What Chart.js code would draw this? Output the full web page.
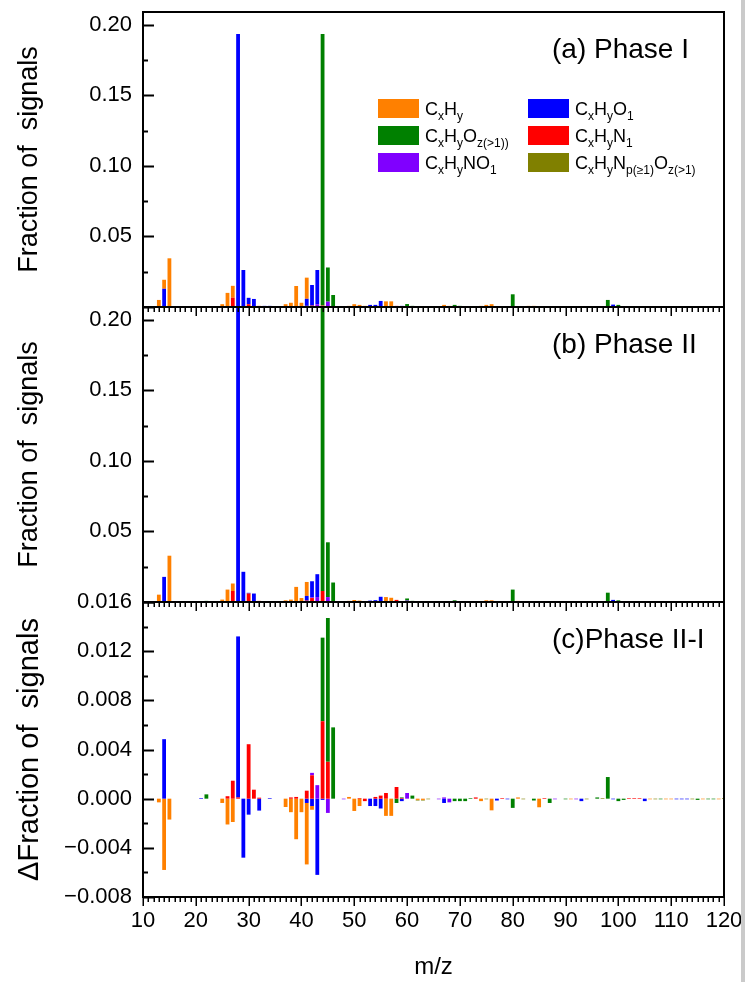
<!DOCTYPE html>
<html>
<head>
<meta charset="utf-8">
<script src="https://cdn.jsdelivr.net/npm/chart.js@4.4.1/dist/chart.umd.min.js"></script>
<style>
  html, body { margin: 0; padding: 0; background: #fff; }
  #wrap { position: relative; width: 745px; height: 982px; }
  #edge { position: absolute; left: 741px; top: 0; width: 4px; height: 982px; background: #cacaca; }
</style>
</head>
<body>
<div id="wrap">
  <canvas id="ms" width="745" height="982"></canvas>
  <div id="edge"></div>
</div>
<script>
// axis ticks
var xTicks = [10, 20, 30, 40, 50, 60, 70, 80, 90, 100, 110, 120]
var yTicksPhase = [0.05, 0.10, 0.15, 0.20]
var yTicksDiff = [-0.008, -0.004, 0, 0.004, 0.008, 0.012, 0.016]

var panelNames = ["(a) Phase I", "(b) Phase II", "(c)Phase II-I"]
var yTitles = ["Fraction of  signals", "Fraction of  signals", "\u0394Fraction of  signals"]

// families in stacking order (bottom first) ; label parts = [text, subscript?]
var familyLabels = [
	[["C", 0], ["x", 1], ["H", 0], ["y", 1], ["N", 0], ["1", 1]],
	[["C", 0], ["x", 1], ["H", 0], ["y", 1], ["NO", 0], ["1", 1]],
	[["C", 0], ["x", 1], ["H", 0], ["y", 1], ["O", 0], ["1", 1]],
	[["C", 0], ["x", 1], ["H", 0], ["y", 1]],
	[["C", 0], ["x", 1], ["H", 0], ["y", 1], ["O", 0], ["z(>1))", 1]],
	[["C", 0], ["x", 1], ["H", 0], ["y", 1], ["N", 0], ["p(\u22651)", 1], ["O", 0], ["z(>1)", 1]]
]
var familyColors = ["#ff0000", "#8000ff", "#0000ff", "#ff8000", "#008000", "#808000"]
// legend reading order, row by row (2 columns)
var legendOrder = [3, 2, 4, 0, 1, 5]

// (a) Phase I : [m/z, fraction]
var phaseI_N1 = [[27, 0.0066], [30, 0.002], [32, 0.0008], [41, 0.0008], [42, 0.001], [44, 0.001], [47, 0.0005], [58, 0.0008], [65, 0.0005], [78, 0.0006], [85, 0.0005], [92, 0.0006], [96, 0.0005], [108, 0.0006], [113, 0.0005]]
var phaseI_NO1 = [[43, 0.002], [45, 0.0038], [48, 0.0006], [60, 0.0006], [64, 0.0006], [66, 0.0005], [89, 0.0005], [102, 0.0005], [107, 0.0005]]
var phaseI_O1 = [[14, 0.0129], [28, 0.1934], [29, 0.0262], [30, 0.0045], [31, 0.0057], [33, 0.0008], [34, 0.0008], [41, 0.005], [42, 0.0146], [43, 0.0242], [53, 0.0015], [54, 0.0015], [55, 0.0043], [59, 0.0008], [71, 0.0006], [72, 0.0005], [82, 0.0006], [86, 0.0006], [99, 0.0017], [106, 0.0006], [117, 0.0006], [118, 0.0006]]
var phaseI_CxHy = [[13, 0.005], [14, 0.0064], [15, 0.0345], [25, 0.002], [26, 0.010], [27, 0.0084], [37, 0.002], [38, 0.003], [39, 0.0149], [40, 0.003], [41, 0.015], [49, 0.0008], [50, 0.002], [51, 0.0015], [52, 0.0008], [56, 0.004], [57, 0.004], [62, 0.0006], [63, 0.0006], [67, 0.0015], [68, 0.0008], [74, 0.0008], [75, 0.0015], [76, 0.002], [81, 0.0006], [83, 0.0008], [84, 0.0008], [91, 0.0006], [105, 0.0005], [110, 0.0005], [111, 0.0005], [119, 0.0005]]
var phaseI_Oz = [[22, 0.0006], [44, 0.1924], [45, 0.0242], [46, 0.0085], [60, 0.0015], [61, 0.0008], [69, 0.0015], [70, 0.0008], [73, 0.0006], [80, 0.009], [88, 0.0006], [98, 0.005], [100, 0.0015], [101, 0.0006], [104, 0.0005], [114, 0.0006], [115, 0.0006]]
var phaseI_NpOz = [[77, 0.0005], [87, 0.0005], [93, 0.0005], [94, 0.0005], [103, 0.0005], [109, 0.0005], [112, 0.0005], [116, 0.0005], [120, 0.0005]]

// (b) Phase II
var phaseII_N1 = [[27, 0.0078], [30, 0.006], [32, 0.0008], [41, 0.001], [42, 0.0028], [44, 0.0078], [45, 0.0005], [52, 0.0005], [54, 0.0005], [55, 0.0005], [56, 0.0005], [58, 0.0015], [65, 0.0005], [73, 0.0005], [78, 0.0006], [92, 0.0006], [96, 0.0005], [108, 0.0006], [113, 0.0005]]
var phaseII_NO1 = [[42, 0.0005], [43, 0.0035], [45, 0.003], [48, 0.0005], [60, 0.001], [64, 0.0005], [68, 0.0005], [89, 0.0005], [102, 0.0005], [107, 0.0005]]
var phaseII_O1 = [[14, 0.0178], [28, 0.225], [29, 0.0214], [30, 0.0005], [31, 0.006], [34, 0.0006], [41, 0.0033], [42, 0.0114], [43, 0.0162], [53, 0.001], [54, 0.0008], [55, 0.0032], [59, 0.0006], [67, 0.0005], [72, 0.0005], [82, 0.0005], [99, 0.0015], [106, 0.0005], [117, 0.0005]]
var phaseII_CxHy = [[13, 0.0052], [15, 0.0328], [16, 0.0005], [25, 0.0017], [26, 0.0088], [27, 0.0053], [37, 0.0012], [38, 0.0017], [39, 0.0107], [40, 0.0028], [41, 0.0099], [49, 0.0008], [50, 0.0014], [51, 0.001], [56, 0.003], [57, 0.003], [62, 0.0006], [63, 0.0005], [75, 0.0012], [76, 0.0012], [81, 0.0008], [83, 0.0006], [85, 0.0006], [91, 0.0005], [110, 0.0005], [119, 0.0005]]
var phaseII_Oz = [[22, 0.0008], [44, 0.22], [45, 0.0388], [46, 0.0138], [60, 0.0015], [61, 0.0008], [69, 0.0012], [70, 0.0006], [80, 0.0088], [88, 0.0006], [98, 0.0066], [100, 0.0012], [114, 0.0006], [115, 0.0006]]
var phaseII_NpOz = [[77, 0.0005], [87, 0.0005], [93, 0.0005], [94, 0.0005], [103, 0.0005], [109, 0.0005], [112, 0.0005], [116, 0.0005], [120, 0.0005]]

// (c) Phase II-I
var diff_N1 = [[26, 0.0002], [27, 0.00146], [28, 0.0001], [30, 0.00443], [31, 0.00073], [32, 0.00008], [38, 0.0001], [39, 0.00014], [41, 0.00065], [42, 0.0019], [44, 0.0063], [45, 0.003], [51, 0.00005], [52, -0.0002], [54, 0.00014], [55, 0.00025], [56, 0.00046], [58, 0.00095], [59, 0.00005], [73, 0.0001], [78, 0.00005], [86, 0.00005], [102, 0.00005], [103, 0.00005], [104, 0.00005]]
var diff_NO1 = [[42, 0.0002], [43, 0.0011], [45, -0.00116], [48, -0.00005], [60, 0.00046], [66, -0.00005], [67, 0.0001], [68, -0.0003], [88, -0.00005], [92, -0.00005]]
var diff_O1 = [[14, 0.00484], [21, 0.00005], [28, 0.0131], [29, -0.0048], [30, -0.0013], [32, -0.00097], [34, 0.00005], [41, -0.00035], [42, -0.0006], [43, -0.0062], [44, -0.0001], [53, -0.0006], [54, -0.0006], [55, -0.0008], [59, -0.0002], [67, -0.00035], [77, -0.00015], [79, -0.00005], [93, -0.0002], [99, -0.00005], [105, -0.0002], [111, -0.00005], [112, -0.00005], [113, -0.00005]]
var diff_CxHy = [[13, -0.0003], [14, -0.0058], [15, -0.0017], [25, -0.00035], [26, -0.0021], [27, -0.0019], [37, -0.00068], [38, -0.0011], [39, -0.0033], [40, -0.0011], [41, -0.005], [42, -0.0003], [49, 0.00014], [50, -0.001], [51, -0.0006], [56, -0.0014], [57, -0.0014], [62, -0.0001], [63, -0.0001], [74, -0.0002], [76, -0.00095], [81, 0.0001], [85, -0.0007], [91, -0.00005], [106, -0.00005], [109, -0.00005], [110, -0.00005], [116, -0.00005], [119, -0.00005]]
var diff_Oz = [[22, 0.00035], [44, 0.0068], [45, 0.0117], [46, 0.0058], [58, -0.00035], [59, 0.00005], [61, 0.00025], [69, -0.0002], [70, -0.0002], [71, -0.0002], [72, 0.00005], [80, -0.00075], [84, -0.00015], [87, -0.00035], [90, -0.00005], [96, 0.0001], [98, 0.00176], [100, -0.0002], [101, -0.0001], [108, -0.00005], [115, -0.0001], [117, -0.00005], [118, -0.00005]]
var diff_NpOz = [[62, -0.00005], [63, -0.00005], [64, -0.00005], [75, -0.00005], [82, -0.00005], [94, -0.00005], [97, 0.00005], [107, -0.00005], [114, -0.00005], [120, 0.00005]]

var panels = [
	[phaseI_N1, phaseI_NO1, phaseI_O1, phaseI_CxHy, phaseI_Oz, phaseI_NpOz],
	[phaseII_N1, phaseII_NO1, phaseII_O1, phaseII_CxHy, phaseII_Oz, phaseII_NpOz],
	[diff_N1, diff_NO1, diff_O1, diff_CxHy, diff_Oz, diff_NpOz]
]
var axisIds = ["ya", "yb", "yc"]

var FONT = '"Liberation Sans", Arial, sans-serif'
Chart.defaults.font.family = FONT
Chart.defaults.color = "#000"

var datasets = []
panels.forEach(function (series, p) {
	series.forEach(function (pairs, f) {
		datasets.push({
			data: pairs.map(function (d) { return { x: d[0], y: d[1] } }),
			yAxisID: axisIds[p],
			xAxisID: "x",
			backgroundColor: familyColors[f],
			borderWidth: 0,
			barPercentage: 0.72,
			categoryPercentage: 1
		})
	})
})

function fmt(v, digits) {
	return v.toFixed(digits).replace("-", "\u2212")
}

function yScale(p, min, max, ticks, digits) {
	return {
		type: "linear",
		position: "left",
		stack: "panels",
		stackWeight: 1,
		weight: 3 - p,   // first stacked box goes to the bottom
		stacked: true,
		min: min,
		max: max,
		grid: { display: false, drawTicks: false },
		border: { display: false },
		afterBuildTicks: function (s) { s.ticks = ticks.map(function (v) { return { value: v } }) },
		afterFit: function (s) { s.width = 143; s.paddingTop = 0; s.paddingBottom = 0 },
		ticks: {
			font: { size: 22 },
			padding: 11,
			autoSkip: false,
			callback: function (v) { return fmt(v, digits) }
		},
		title: { display: true, text: yTitles[p], font: { size: p < 2 ? 27 : 29 }, padding: { top: 13, bottom: 0 } }
	}
}

// subscripted text for the legend
function drawRich(ctx, parts, x, y) {
	parts.forEach(function (pt) {
		ctx.font = (pt[1] ? "12px " : "18px ") + FONT
		ctx.fillText(pt[0], x, pt[1] ? y + 5 : y)
		x += ctx.measureText(pt[0]).width
	})
}

var decor = {
	id: "decor",
	afterDatasetsDraw: function (chart) {
		var ctx = chart.ctx
		var xs = chart.scales.x
		ctx.save()
		ctx.strokeStyle = "#000"
		ctx.fillStyle = "#000"
		axisIds.forEach(function (id, k) {
			var s = chart.scales[id]
			var major = k < 2 ? [0].concat(yTicksPhase) : yTicksDiff
			var step = major[1] - major[0]
			ctx.lineWidth = 2
			ctx.strokeRect(xs.left, s.top, xs.right - xs.left, s.bottom - s.top)
			ctx.beginPath()
			major.forEach(function (v) {
				var y = Math.round(s.getPixelForValue(v)) + 0.5
				ctx.moveTo(xs.left, y); ctx.lineTo(xs.left + 11, y)
				var ym = s.getPixelForValue(v - step / 2)
				if (ym < s.bottom - 2) { ym = Math.round(ym) + 0.5; ctx.moveTo(xs.left, ym); ctx.lineTo(xs.left + 5, ym) }
			})
			ctx.stroke()
			ctx.beginPath()
			ctx.lineWidth = 1.5
			for (var v = xs.min; v <= xs.max; v++) {
				var x = Math.round(xs.getPixelForValue(v)) + 0.25
				ctx.moveTo(x, s.bottom); ctx.lineTo(x, s.bottom + (v % 10 === 0 ? 9 : 5))
			}
			ctx.stroke()
			ctx.font = "28px " + FONT
			ctx.textBaseline = "alphabetic"
			ctx.fillText(panelNames[k], 552, s.top + 46)
		})
		// legend inside panel (a)
		legendOrder.forEach(function (f, i) {
			var col = i % 2, row = Math.floor(i / 2)
			var sx = col ? 528 : 378
			var sy = 99 + row * 27
			ctx.fillStyle = familyColors[f]
			ctx.fillRect(sx, sy, 41, 19)
			ctx.fillStyle = "#000"
			drawRich(ctx, familyLabels[f], sx + 47, sy + 16)
		})
		ctx.restore()
	}
}

new Chart(document.getElementById("ms"), {
	type: "bar",
	data: { datasets: datasets },
	options: {
		responsive: false,
		animation: false,
		layout: { padding: { left: 0, top: 12, right: 21, bottom: 0 } },
		plugins: { legend: { display: false }, tooltip: { enabled: false } },
		scales: {
			x: {
				type: "linear",
				min: 10,
				max: 120,
				offset: false,
				stacked: true,
				grid: { display: false, drawTicks: false },
				border: { display: false },
				afterBuildTicks: function (s) { s.ticks = xTicks.map(function (v) { return { value: v } }) },
				afterFit: function (s) { s.height = 85; s.paddingLeft = 0; s.paddingRight = 0 },
				ticks: { font: { size: 22 }, padding: 11, maxRotation: 0, autoSkip: false },
				title: { display: true, text: "m/z", font: { size: 24 }, padding: { top: 0, bottom: 0 } }
			},
			ya: yScale(0, 0, 0.209, yTicksPhase, 2),
			yb: yScale(1, 0, 0.209, yTicksPhase, 2),
			yc: yScale(2, -0.008, 0.016, yTicksDiff, 3)
		}
	},
	plugins: [decor]
})
</script>
</body>
</html>
